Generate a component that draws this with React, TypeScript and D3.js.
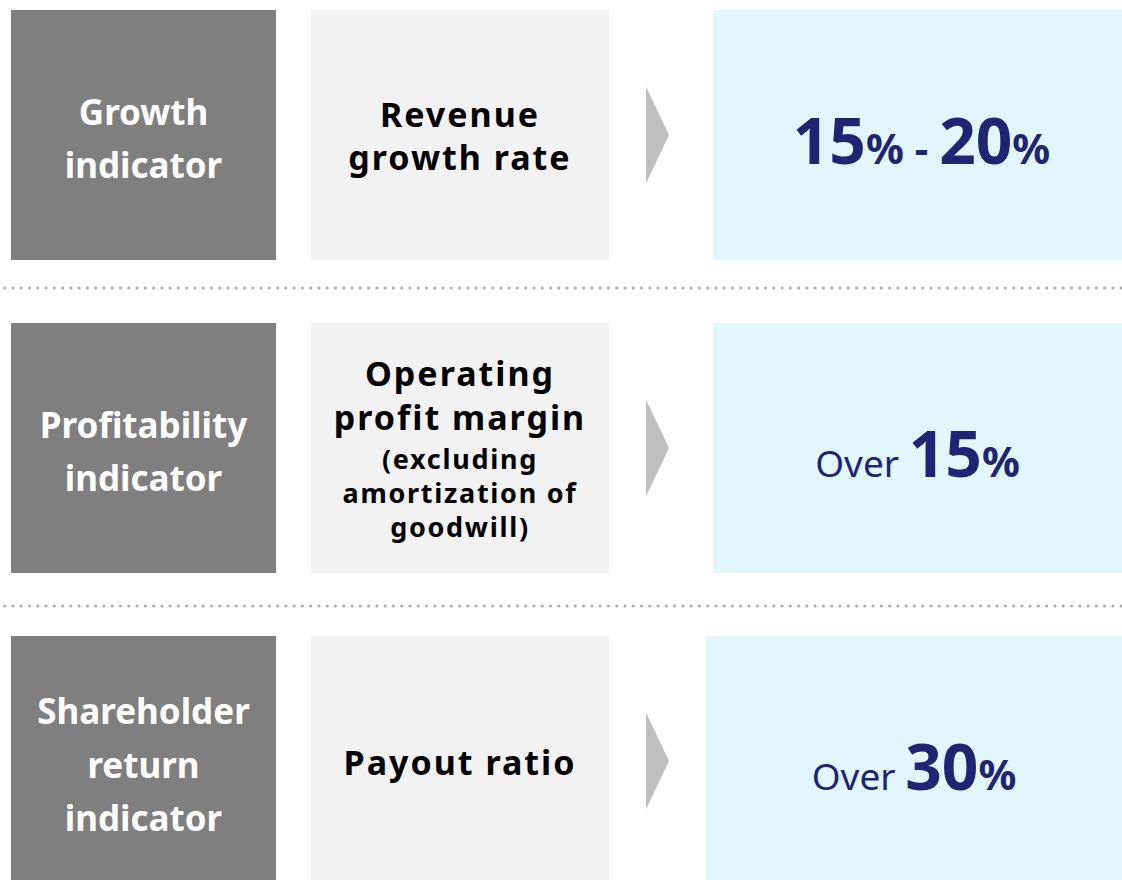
import React from "react";
import * as d3 from "d3";

const W = 1122;
const H = 880;

const indicators = [["Growth", "indicator"], ["Profitability", "indicator"], ["Shareholder", "return", "indicator"]];
const metrics = [
  [{ t: "Revenue", big: true }, { t: "growth rate", big: true }],
  [
    { t: "Operating", big: true },
    { t: "profit margin", big: true },
    { t: "(excluding", big: false },
    { t: "amortization of", big: false },
    { t: "goodwill)", big: false },
  ],
  [{ t: "Payout ratio", big: true }],
];
const targetPrefix = ["", "Over", "Over"];
const targetLow = ["15", "15", "30"];
const targetHigh = ["20", "", ""];

const C_DARK = "#7f7f7f";
const C_LIGHT = "#f2f2f2";
const C_BLUE = "#e1f6fd";
const C_ARROW = "#bfbfbf";
const C_NAVY = "#1f2473";
const C_DOT = "#a9a9a9";
const FONT = "'Noto Sans', 'Open Sans', sans-serif";

export default function App() {
  const y = d3.scaleBand<number>().domain([0, 1, 2]).range([10, 886]).paddingInner(63 / 313).paddingOuter(0);
  const bw = y.bandwidth();
  const sepOffset = [28, 33];

  return (
    <svg width={W} height={H} style={{ position: "absolute", left: 0, top: 0, background: "#fff" }}>
      {indicators.map((lines, i) => {
        const top = y(i)!;
        const cy = top + bw / 2;
        const blueX = i === 2 ? 706 : 713;
        const m = metrics[i];
        // baseline positions for the metric lines
        const rel: number[] = [0];
        for (let k = 1; k < m.length; k++) {
          const adv = m[k].big ? 43.5 : m[k - 1].big ? 39 : 34;
          rel.push(rel[k - 1] + adv);
        }
        const span = rel[rel.length - 1];
        const base0 = cy + 13.5 - span / 2;
        return (
          <g key={i}>
            <rect x={11} y={top} width={265} height={bw} fill={C_DARK} />
            <rect x={311} y={top} width={298} height={bw} fill={C_LIGHT} />
            <rect x={blueX} y={top} width={W - blueX} height={bw} fill={C_BLUE} />
            <path d={`M646,${cy - 48.5}L669,${cy}L646,${cy + 48.5}Z`} fill={C_ARROW} />
            {lines.map((t, k) => (
              <text
                key={k}
                x={143.5}
                y={cy + (k - (lines.length - 1) / 2) * 53.5 + 16.5}
                textAnchor="middle"
                fill="#fff"
                fontFamily={FONT}
                fontWeight={700}
                fontSize={35}
              >
                {t}
              </text>
            ))}
            {m.map((l, k) => (
              <text
                key={k}
                x={460}
                y={base0 + rel[k]}
                textAnchor="middle"
                fill="#000"
                fontFamily={FONT}
                fontWeight={700}
                fontSize={l.big ? 34 : 27}
                letterSpacing={l.big ? 2 : 1.7}
              >
                {l.t}
              </text>
            ))}
            <text
              x={(blueX + W) / 2 + (targetHigh[i] ? 4 : 0)}
              y={cy + 29}
              textAnchor="middle"
              fill={C_NAVY}
              fontFamily={FONT}
            >
              {targetPrefix[i] ? (
                <tspan fontSize={37} fontWeight={400}>{targetPrefix[i] + " "}</tspan>
              ) : null}
              <tspan fontSize={64} fontWeight={700}>{targetLow[i]}</tspan>
              <tspan fontSize={42} fontWeight={700}>%</tspan>
              {targetHigh[i] ? (
                <>
                  <tspan fontSize={42} fontWeight={700}>{" - "}</tspan>
                  <tspan fontSize={64} fontWeight={700}>{targetHigh[i]}</tspan>
                  <tspan fontSize={42} fontWeight={700}>%</tspan>
                </>
              ) : null}
            </text>
            {i < 2 ? (
              <line
                x1={4.7}
                x2={W}
                y1={top + bw + sepOffset[i]}
                y2={top + bw + sepOffset[i]}
                stroke={C_DOT}
                strokeWidth={3}
                strokeLinecap="round"
                strokeDasharray="0 8.27"
              />
            ) : null}
          </g>
        );
      })}
    </svg>
  );
}
